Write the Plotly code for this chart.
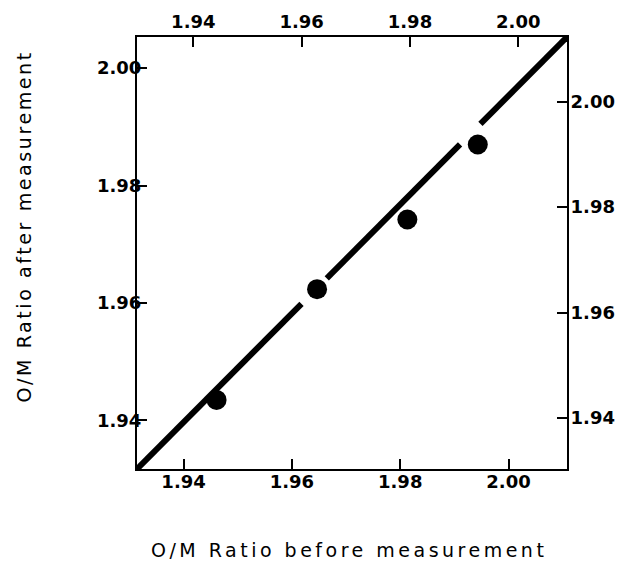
import plotly.graph_objects as go

# O/M ratio before (x) and after (y) measurement
om_before = [1.9448, 1.9635, 1.9803, 1.9934]
om_after = [1.9428, 1.9633, 1.9762, 1.9901]

# 1:1 reference line, broken where it passes the markers
diag_x = [1.930, 1.9606, None, 1.9653, 1.9901, None, 1.9939, 2.010]
diag_y = diag_x

tick_vals = [1.94, 1.96, 1.98, 2.00]
tick_text = ["1.94", "1.96", "1.98", "2.00"]

data_range = [1.93, 2.01]          # shared 1:1 scale of the data
bottom_range = [1.9314, 2.0108]
top_range = [1.9296, 2.0090]
left_range = [1.9317, 2.0053]
right_range = [1.9303, 2.0123]

TICK_FONT = "DejaVu Sans, sans-serif"
TITLE_FONT = "DejaVu Sans, sans-serif"

fig = go.Figure()
fig.add_trace(go.Scatter(x=om_before, y=om_after, mode="markers",
                         marker=dict(size=20, color="black"),
                         xaxis="x", yaxis="y", showlegend=False))
fig.add_trace(go.Scatter(x=diag_x, y=diag_y, mode="lines",
                         line=dict(color="black", width=6),
                         connectgaps=False,
                         xaxis="x", yaxis="y", showlegend=False))
# invisible copies so the labelled frame axes are drawn
for xa, ya in (("x2", "y2"), ("x3", "y3")):
    fig.add_trace(go.Scatter(x=om_before, y=om_after, mode="markers",
                             marker=dict(size=1, opacity=0),
                             xaxis=xa, yaxis=ya, showlegend=False,
                             hoverinfo="skip"))

axis_common = dict(
    tickvals=tick_vals, ticktext=tick_text, ticks="inside", ticklen=10,
    tickwidth=2, tickcolor="black", showline=True, linewidth=2,
    linecolor="black", showgrid=False, zeroline=False, automargin=False,
    tickfont=dict(family=TICK_FONT, size=18, color="black", weight="bold"),
)

fig.update_layout(
    width=617, height=570,
    margin=dict(l=137, r=50, t=37, b=101, autoexpand=False),
    paper_bgcolor="white", plot_bgcolor="rgba(0,0,0,0)",
    xaxis=dict(range=data_range, visible=False, anchor="y", automargin=False),
    yaxis=dict(range=data_range, visible=False, anchor="x", automargin=False),
    xaxis2=dict(range=bottom_range, side="bottom", overlaying="x",
                anchor="y2", ticklabelstandoff=-5, **axis_common),
    yaxis2=dict(range=left_range, side="left", overlaying="y",
                anchor="x2", ticklabelstandoff=-10, **axis_common),
    xaxis3=dict(range=top_range, side="top", overlaying="x",
                anchor="y3", **axis_common),
    yaxis3=dict(range=right_range, side="right", overlaying="y",
                anchor="x3", ticklabelstandoff=-2, **axis_common),
    annotations=[
        dict(text='<span style="letter-spacing:3.5px">O/M Ratio before measurement</span>',
             xref="paper", yref="paper",
             x=0.494, y=-0.1886, xanchor="center", yanchor="middle",
             showarrow=False,
             font=dict(family=TITLE_FONT, size=19, color="black")),
        dict(text='<span style="letter-spacing:2.6px">O/M Ratio after measurement</span>',
             xref="paper", yref="paper",
             x=-0.262, y=0.562, xanchor="center", yanchor="middle",
             textangle=-90, showarrow=False,
             font=dict(family=TITLE_FONT, size=19, color="black")),
    ],
)

fig.write_html("out.html")
